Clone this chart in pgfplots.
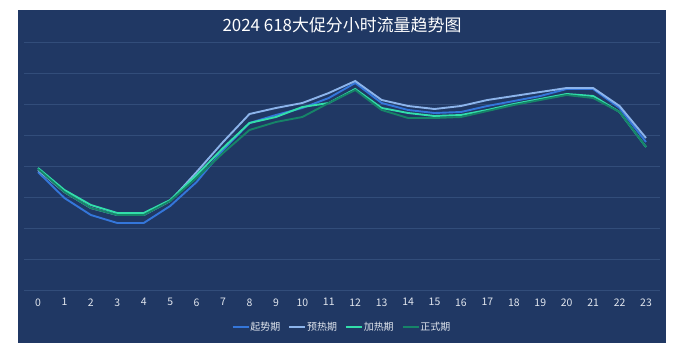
\documentclass[border=0pt]{standalone}
\usepackage{pgfplots}
\pgfplotsset{compat=1.18}
\usepackage{fontspec}
\setmainfont{Noto Sans CJK SC}
\definecolor{bg}{RGB}{32,56,100}
\definecolor{gridc}{RGB}{50,77,122}
\definecolor{c1}{RGB}{52,118,218}
\definecolor{c2}{RGB}{140,180,235}
\definecolor{c3}{RGB}{50,222,170}
\definecolor{c4}{RGB}{22,132,104}
\definecolor{lbl}{RGB}{225,230,238}
\begin{document}
\begin{tikzpicture}[x=1bp,y=1bp]
\fill[white] (0,0) rectangle (674,353);
\fill[bg] (18,10) rectangle (666,343);
\node[text=white, font=\fontsize{17}{19}\selectfont] at (342,328) {2024 618大促分小时流量趋势图};
\begin{axis}[
  at={(24bp,63bp)}, anchor=south west,
  scale only axis, width=636bp, height=248bp,
  xmin=-0.53, xmax=23.53, ymin=0, ymax=248,
  axis line style={draw=none},
  xtick={0,...,23}, ytick={0,31,...,248}, yticklabels={},
  major tick length=0pt,
  ymajorgrids, grid style={gridc, line width=0.8bp},
  /pgf/number format/assume math mode=true,
  xticklabel style={text=lbl, font=\fontsize{10.5}{12}\selectfont, yshift=-5bp},
  legend columns=4,
  legend style={at={(0.5,0)}, anchor=center, yshift=-37bp, draw=none, fill=none,
    text=lbl, font=\fontsize{10}{12}\selectfont,
    /tikz/every even column/.append style={column sep=6bp},
    /tikz/every odd column/.append style={column sep=-1bp}},
  legend image code/.code={\draw[#1, line width=1.8bp] (0bp,0bp) -- (16bp,0bp);},
  every axis plot/.append style={line width=1.9bp, mark=none},
]
\addplot[c1] coordinates {(0,118)(1,92)(2,75)(3,67)(4,67)(5,84)(6,108)(7,140)(8,167)(9,175)(10,182)(11,192)(12,207)(13,187)(14,180)(15,177)(16,178)(17,184)(18,189)(19,194)(20,201)(21,201)(22,182)(23,148)};
\addlegendentry{起势期}
\addplot[c2] coordinates {(0,120)(1,98)(2,82)(3,75)(4,75)(5,89)(6,118)(7,148)(8,176)(9,182)(10,187)(11,197)(12,209)(13,190)(14,184)(15,181)(16,184)(17,190)(18,194)(19,198)(20,202)(21,202)(22,184)(23,152)};
\addlegendentry{预热期}
\addplot[c3] coordinates {(0,122)(1,100)(2,85)(3,77)(4,77)(5,90)(6,115)(7,142)(8,167)(9,173)(10,183)(11,187)(12,201)(13,182)(14,177)(15,174)(16,175)(17,180)(18,186)(19,191)(20,196)(21,194)(22,178)(23,143)};
\addlegendentry{加热期}
\addplot[c4] coordinates {(0,121)(1,98)(2,82)(3,75)(4,75)(5,89)(6,112)(7,137)(8,160)(9,168)(10,173)(11,187)(12,200)(13,180)(14,172)(15,172)(16,173)(17,179)(18,185)(19,190)(20,195)(21,192)(22,178)(23,143)};
\addlegendentry{正式期}
\end{axis}
\end{tikzpicture}
\end{document}
